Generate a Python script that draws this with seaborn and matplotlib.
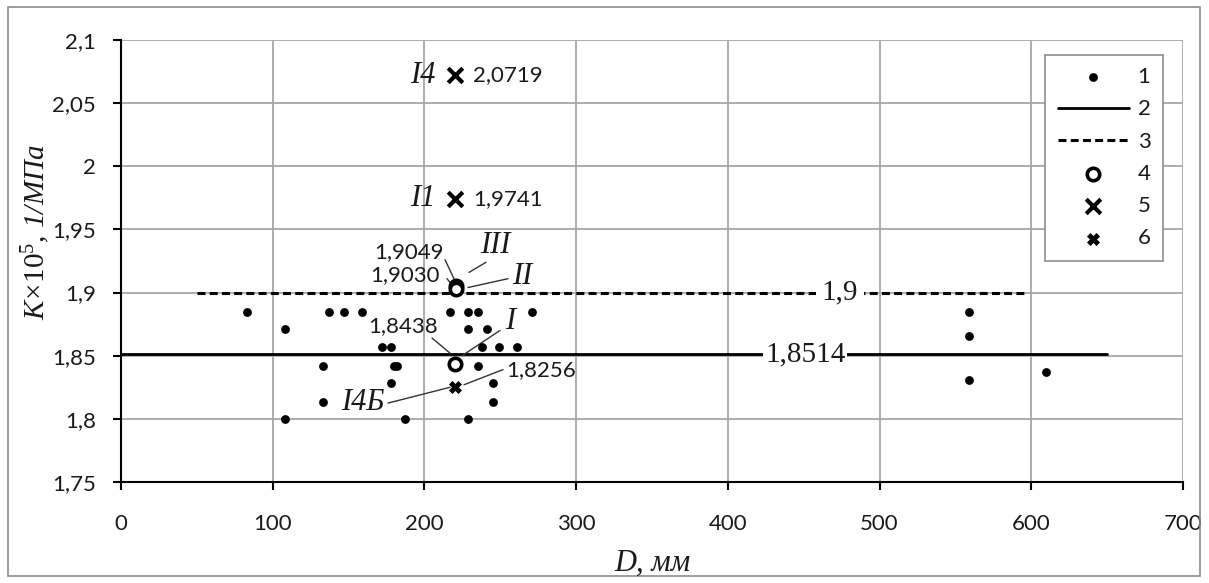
import matplotlib
matplotlib.use("Agg")
import matplotlib.pyplot as plt
import matplotlib.patches as mpatches
import numpy as np
import pandas as pd
import seaborn as sns

# ---------------------------------------------------------------------------
# Data
# ---------------------------------------------------------------------------
D_obs = [83, 108, 137, 147, 159, 172, 178, 133, 180, 182, 178, 133, 108, 187,
         217, 229, 235, 271, 229, 241, 238, 249, 261, 235, 245, 245, 229,
         559, 559, 559, 610]
K_obs = [1.885, 1.871, 1.885, 1.885, 1.885, 1.857, 1.857, 1.842, 1.842, 1.842,
         1.828, 1.813, 1.800, 1.800,
         1.885, 1.885, 1.885, 1.885, 1.871, 1.871, 1.857, 1.857, 1.857, 1.842,
         1.828, 1.813, 1.800,
         1.885, 1.866, 1.831, 1.837]

mean_D = [0, 650]
mean_K = 1.8514
norm_D = [50, 595]
norm_K = 1.9

circ_D = [221, 221, 220]
circ_K = [1.9049, 1.9030, 1.8438]
cross_D = [220, 220]
cross_K = [2.0719, 1.9741]
xcross_D = [220]
xcross_K = [1.8256]

x_ticks = [0, 100, 200, 300, 400, 500, 600, 700]
y_ticks = [1.75, 1.8, 1.85, 1.9, 1.95, 2.0, 2.05, 2.1]
legend_labels = ["1", "2", "3", "4", "5", "6"]

# ---------------------------------------------------------------------------
# Style
# ---------------------------------------------------------------------------
sns.set_theme(style="white")
plt.rcParams["font.family"] = ["Lato", "DejaVu Sans"]
plt.rcParams["mathtext.fontset"] = "custom"
plt.rcParams["mathtext.it"] = "Liberation Serif:italic"
plt.rcParams["mathtext.rm"] = "Liberation Serif"

TXT = "#1a1a1a"
SERIF = ["Liberation Serif", "DejaVu Serif"]

W, H = 1209, 583
fig = plt.figure(figsize=(W / 100, H / 100), dpi=100)
fig.patch.set_facecolor("white")
ax = fig.add_axes([121 / W, 1 - 482 / H, (1183 - 121) / W, (482 - 40) / H])

# outer frame of the chart area
fig.patches.append(mpatches.Rectangle(
    (8 / W, 7 / H), (1200 - 8) / W, (576 - 7) / H, transform=fig.transFigure,
    fill=False, edgecolor="#8c8c8c", linewidth=1.2))

# ---------------------------------------------------------------------------
# Marks
# ---------------------------------------------------------------------------
sns.scatterplot(x=D_obs, y=K_obs, ax=ax, color="black", s=40, marker="o",
                edgecolor="black", linewidth=0, label=legend_labels[0], zorder=5)
sns.lineplot(x=mean_D, y=[mean_K] * 2, ax=ax, color="black", linewidth=2.0,
             label=legend_labels[1], zorder=3)
sns.lineplot(x=norm_D, y=[norm_K] * 2, ax=ax, color="black", linewidth=2.2,
             linestyle=(0, (2.6, 1.4)), label=legend_labels[2], zorder=3)
sns.scatterplot(x=circ_D, y=circ_K, ax=ax, s=80, marker="o", facecolor="white",
                edgecolor="black", linewidth=2.6, label=legend_labels[3], zorder=6)
sns.scatterplot(x=cross_D, y=cross_K, ax=ax, s=110, marker="x", color="black",
                linewidth=3.0, label=legend_labels[4], zorder=6)
sns.scatterplot(x=xcross_D, y=xcross_K, ax=ax, s=75, marker="X", color="black",
                edgecolor="black", linewidth=0.5, label=legend_labels[5], zorder=6)

# ---------------------------------------------------------------------------
# Axes
# ---------------------------------------------------------------------------
ax.set_xlim(0, 700)
ax.set_ylim(1.75, 2.1)
ax.set_xticks(x_ticks)
ax.set_yticks(y_ticks)
ax.set_xticklabels([str(v) for v in x_ticks])
ax.set_yticklabels([f"{v:g}".replace(".", ",") for v in y_ticks])
ax.grid(True, color="#a6a6a6", linewidth=1.3)
ax.set_axisbelow(True)
for side in ["top", "right"]:
    ax.spines[side].set_visible(False)
for side in ["left", "bottom"]:
    ax.spines[side].set_color("black")
    ax.spines[side].set_linewidth(1.5)
ax.tick_params(axis="y", direction="out", length=6, width=1.5, color="black",
               pad=12, labelsize=16, labelcolor=TXT, left=True)
ax.tick_params(axis="x", direction="out", length=6, width=1.5, color="black",
               pad=17, labelsize=16, labelcolor=TXT, bottom=True)
ax.set_xlabel("")
ax.set_ylabel("")

fig.text(652 / W, 1 - 563 / H, "D, мм", family=SERIF, style="italic",
         fontsize=22, color=TXT, ha="center", va="center")
fig.text(36 / W, 1 - 232 / H, r"$K\!\times\!10^{5}$" + ", 1/МПа", family=SERIF,
         style="italic", fontsize=21, color=TXT, ha="center", va="center",
         rotation=90)

# line value labels
box = dict(facecolor="white", edgecolor="none", pad=1.5)
ax.text(451, mean_K, "1,8514", family=SERIF, fontsize=21, color=TXT,
        ha="center", va="center", bbox=box, zorder=4)
ax.text(474, norm_K, "1,9", family=SERIF, fontsize=21, color=TXT,
        ha="center", va="center", bbox=dict(facecolor="white", edgecolor="none", pad=4),
        zorder=4)

# point labels
num = dict(fontsize=16, color=TXT, va="center")
ital = dict(family=SERIF, style="italic", fontsize=22, color=TXT, va="center")
ax.text(207, cross_K[0], "I4", ha="right", **ital)
ax.text(232, cross_K[0], "2,0719", ha="left", **num)
ax.text(207, cross_K[1], "I1", ha="right", **ital)
ax.text(232, cross_K[1], "1,9741", ha="left", **num)
ax.text(212.5, 1.932, "1,9049", ha="right", **num)
ax.text(210.3, 1.914, "1,9030", ha="right", **num)
ax.text(247, 1.937, "III", ha="center", **ital)
ax.text(264.5, 1.913, "II", ha="center", **ital)
ax.text(209, 1.8735, "1,8438", ha="right", **num)
ax.text(256.4, 1.8767, "I", ha="center", **ital)
ax.text(253.8, 1.8387, "1,8256", ha="left", **num)
ax.text(174, 1.8133, "I4Б", ha="right", **ital)

leaders = [((213.6, 1.926), (220.2, 1.909)),
           ((214.9, 1.911), (218.2, 1.906)),
           ((229.4, 1.916), (240.6, 1.924)),
           ((228.7, 1.904), (255.1, 1.911)),
           ((205.0, 1.864), (216.9, 1.852)),
           ((224.8, 1.850), (249.8, 1.870)),
           ((226.1, 1.827), (251.8, 1.839)),
           ((176.0, 1.8125), (216.9, 1.825))]
for a, b in leaders:
    ax.annotate("", xy=b, xytext=a,
                arrowprops=dict(arrowstyle="-", color="#333333", lw=1.0,
                                shrinkA=0, shrinkB=0), zorder=4)

# ---------------------------------------------------------------------------
# Legend
# ---------------------------------------------------------------------------
leg = ax.legend(loc="upper right", bbox_to_anchor=(0.981, 0.966),
                borderaxespad=0, frameon=True, fancybox=False, framealpha=1,
                edgecolor="#8c8c8c", fontsize=16, handlelength=3.2,
                handletextpad=0.4, labelspacing=0.55, borderpad=0.55,
                scatterpoints=1)
leg.get_frame().set_linewidth(1.2)
for t in leg.get_texts():
    t.set_color(TXT)

fig.savefig("out.png", dpi=100)
